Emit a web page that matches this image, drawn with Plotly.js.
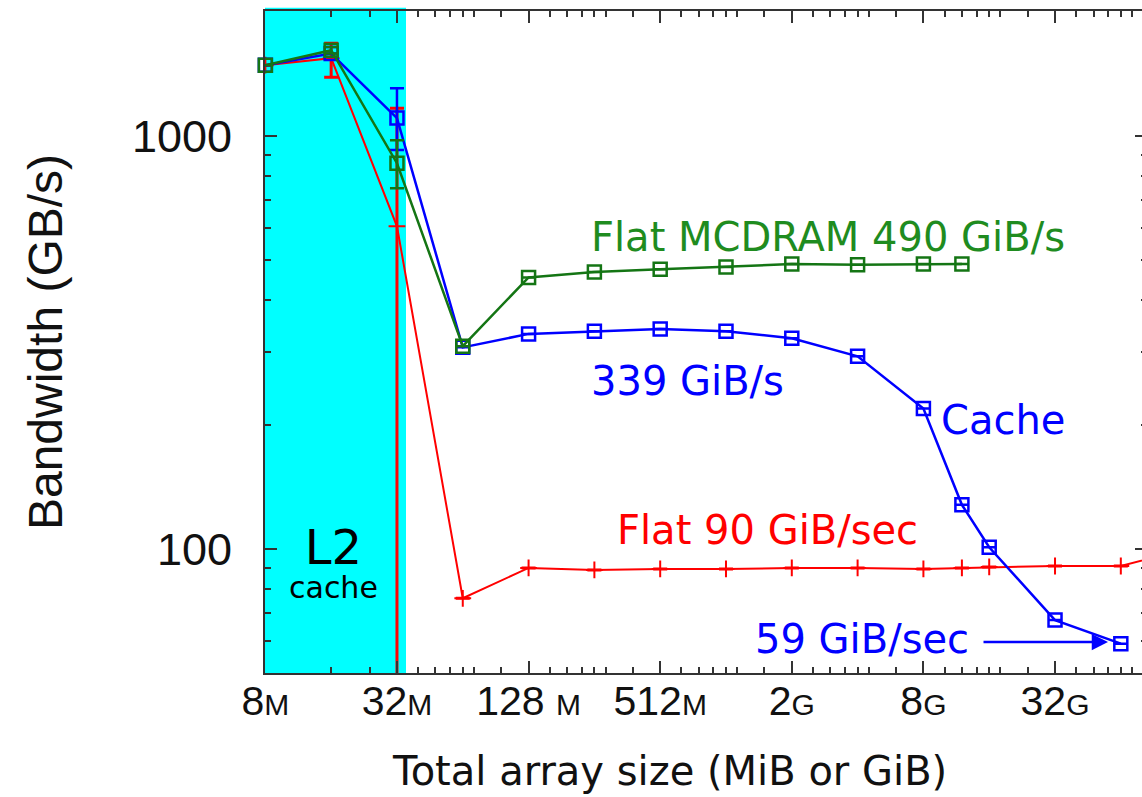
<!DOCTYPE html>
<html>
<head>
<meta charset="utf-8">
<script src="https://cdn.plot.ly/plotly-3.0.1.min.js"></script>
<style>
html, body { margin: 0; padding: 0; overflow: hidden; background: #fff; }
#chart { width: 1147px; height: 797px; }
</style>
</head>
<body>
<div id="chart"></div>
<script>
// ---- data (array size in MiB, bandwidth in GiB/s) ----
const sizesMiB = [8, 16, 32, 64, 128, 256, 512, 1024, 2048, 4096, 8192, 12288, 16384, 32768, 65536, 131072];

const flatMcdramSizes = [8, 16, 32, 64, 128, 256, 512, 1024, 2048, 4096, 8192, 12288];
const flatMcdram = [1486, 1615, 860, 310, 455, 469, 476, 482, 490, 488, 490, 490];
const flatMcdramErrPlus  = [0, 30, 118, 0, 0, 0, 0, 0, 0, 0, 0, 0];
const flatMcdramErrMinus = [0, 30, 112, 0, 0, 0, 0, 0, 0, 0, 0, 0];

const cacheSizes = [8, 16, 32, 64, 128, 256, 512, 1024, 2048, 4096, 8192, 12288, 16384, 32768, 65536];
const cacheMode = [1486, 1585, 1106, 308, 332, 337, 341, 337, 324, 293, 219, 128, 101, 67.3, 59];
const cacheErrPlus  = [0, 0, 200, 0, 0, 0, 0, 0, 0, 0, 0, 0, 0, 0, 0];
const cacheErrMinus = [0, 0, 180, 0, 0, 0, 0, 0, 0, 0, 0, 0, 0, 0, 0];

const flatDdr = [1486, 1545, 605, 76, 90, 89, 89.5, 89.5, 90, 90, 89.5, 90, 90.5, 91, 91, 100];
const flatDdrErrPlus  = [0, 134, 564, 0, 0, 0, 0, 0, 0, 0, 0, 0, 0, 0, 0, 0];
const flatDdrErrMinus = [0, 155, 590, 0, 0, 0, 0, 0, 0, 0, 0, 0, 0, 0, 0, 0];

// ---- ticks ----
const xTickVals = [8, 32, 128, 512, 2048, 8192, 32768];
const xTickNums = ['8', '32', '128 ', '512', '2', '8', '32'];
const xTickUnits = ['M', 'M', 'M', 'M', 'G', 'G', 'G'];
const xMinorVals = [16, 24,
  40, 48, 56, 64, 72, 96,
  160, 192, 224, 256, 288, 384,
  640, 768, 896, 1024, 1152, 1536,
  2560, 3072, 3584, 4096, 4608, 6144,
  10240, 12288, 14336, 16384, 18432, 24576,
  40960, 49152, 57344, 65536, 73728];
const yTickVals = [100, 1000];
const yTickText = ['100', '1000'];
const yMinorVals = [60, 70, 80, 90, 200, 300, 400, 500, 600, 700, 800, 900, 2000];

const GREEN_LINE = '#147514';
const GREEN_TEXT = '#1f8c1f';
const BLUE = '#0000ff';
const RED = '#ff0000';

const xTickText = xTickNums.map((n, i) => n + '<span style="font-size:30px">' + xTickUnits[i] + '</span>');

// plot area in pixels, used for annotation placement (paper coords)
const L = 265, R = 1147, T = 11, B = 673;
const px = v => (v - L) / (R - L);
const py = v => (B - v) / (B - T);

const traces = [
  {
    x: sizesMiB, y: flatDdr, type: 'scatter', mode: 'lines+markers', name: 'Flat DDR',
    line: {color: RED, width: 2},
    marker: {symbol: 'cross-thin', size: 12, line: {color: RED, width: 2}, color: RED},
    error_y: {type: 'data', symmetric: false, array: flatDdrErrPlus, arrayminus: flatDdrErrMinus,
              color: RED, thickness: 3, width: 7},
    cliponaxis: true, showlegend: false
  },
  {
    x: cacheSizes, y: cacheMode, type: 'scatter', mode: 'lines+markers', name: 'Cache',
    line: {color: BLUE, width: 2.5},
    marker: {symbol: 'square-open', size: 13, line: {color: BLUE, width: 2.5}, color: BLUE},
    error_y: {type: 'data', symmetric: false, array: cacheErrPlus, arrayminus: cacheErrMinus,
              color: BLUE, thickness: 2.5, width: 7},
    cliponaxis: false, showlegend: false
  },
  {
    x: flatMcdramSizes, y: flatMcdram, type: 'scatter', mode: 'lines+markers', name: 'Flat MCDRAM',
    line: {color: GREEN_LINE, width: 2.5},
    marker: {symbol: 'square-open', size: 13, line: {color: GREEN_LINE, width: 2.5}, color: GREEN_LINE},
    error_y: {type: 'data', symmetric: false, array: flatMcdramErrPlus, arrayminus: flatMcdramErrMinus,
              color: GREEN_LINE, thickness: 2.5, width: 7},
    cliponaxis: false, showlegend: false
  }
];

const annFont = 'DejaVu Sans, sans-serif';
const annotations = [
  {xref: 'paper', yref: 'paper', x: px(828), y: py(237), text: 'Flat MCDRAM 490 GiB/s',
   showarrow: false, font: {family: annFont, size: 40, color: GREEN_TEXT}, xanchor: 'center', yanchor: 'middle'},
  {xref: 'paper', yref: 'paper', x: px(687), y: py(381), text: '339 GiB/s',
   showarrow: false, font: {family: annFont, size: 40, color: BLUE}, xanchor: 'center', yanchor: 'middle'},
  {xref: 'paper', yref: 'paper', x: px(1003), y: py(420), text: 'Cache',
   showarrow: false, font: {family: annFont, size: 40, color: BLUE}, xanchor: 'center', yanchor: 'middle'},
  {xref: 'paper', yref: 'paper', x: px(767), y: py(530), text: 'Flat 90 GiB/sec',
   showarrow: false, font: {family: annFont, size: 40, color: RED}, xanchor: 'center', yanchor: 'middle'},
  {xref: 'paper', yref: 'paper', x: px(862), y: py(639), text: '59 GiB/sec',
   showarrow: false, font: {family: annFont, size: 40, color: BLUE}, xanchor: 'center', yanchor: 'middle'},
  {xref: 'paper', yref: 'paper', x: px(1108), y: py(642), text: '',
   showarrow: true, axref: 'pixel', ayref: 'pixel', ax: -126, ay: 0,
   arrowhead: 2, arrowsize: 1.3, arrowwidth: 2.5, arrowcolor: BLUE, standoff: 0},
  {xref: 'paper', yref: 'paper', x: px(333), y: py(562),
   text: '<span style="font-size:48px">L2</span><br><span style="font-size:30px">cache</span>',
   showarrow: false, font: {family: annFont, size: 26, color: '#000'}, xanchor: 'center', yanchor: 'middle'},
  // x-axis title, centred under the visible part of the axis as in the original figure
  {xref: 'paper', yref: 'paper', x: px(669), y: py(771), text: 'Total array size (MiB or GiB)',
   showarrow: false, font: {family: annFont, size: 40, color: '#111'}, xanchor: 'center', yanchor: 'middle'}
];

const axisColor = '#333';
const layout = {
  width: 1147, height: 797,
  margin: {l: L, r: 1147 - R, t: T, b: 797 - B, pad: 0},
  paper_bgcolor: '#fff', plot_bgcolor: '#fff',
  showlegend: false,
  xaxis: {
    type: 'log', range: [Math.log10(7.97), Math.log10(7.97) + (R - L) / 218.6],
    tickmode: 'array', tickvals: xTickVals, ticktext: xTickText,
    ticks: 'inside', ticklen: 12, tickwidth: 2, tickcolor: axisColor,
    minor: {tickmode: 'array', tickvals: xMinorVals, ticks: 'inside', ticklen: 6, tickwidth: 2, tickcolor: axisColor, showgrid: false},
    showline: true, linecolor: axisColor, linewidth: 2, mirror: 'ticks',
    showgrid: false, zeroline: false,
    tickfont: {family: 'Liberation Sans, Arial, sans-serif', size: 41, color: '#111'},
    ticklabelstandoff: -9
  },
  yaxis: {
    type: 'log', range: [Math.log10(50.1), Math.log10(2010)],
    tickmode: 'array', tickvals: yTickVals, ticktext: yTickText,
    ticks: 'inside', ticklen: 12, tickwidth: 2, tickcolor: axisColor,
    minor: {tickmode: 'array', tickvals: yMinorVals, ticks: 'inside', ticklen: 6, tickwidth: 2, tickcolor: axisColor, showgrid: false},
    showline: true, linecolor: axisColor, linewidth: 2, mirror: 'ticks',
    showgrid: false, zeroline: false,
    tickfont: {family: 'Liberation Sans, Arial, sans-serif', size: 45, color: '#111'},
    ticklabelstandoff: 22,
    title: {text: 'Bandwidth (GB/s)', standoff: 54,
            font: {family: 'Liberation Sans, Arial, sans-serif', size: 48, color: '#111'}}
  },
  shapes: [
    {type: 'rect', xref: 'paper', yref: 'paper', x0: 0, x1: px(406), y0: 0, y1: 1.005,
     fillcolor: '#00ffff', line: {width: 0}, layer: 'below'}
  ],
  annotations: annotations
};

Plotly.newPlot('chart', traces, layout, {displayModeBar: false, staticPlot: true});
</script>
</body>
</html>
